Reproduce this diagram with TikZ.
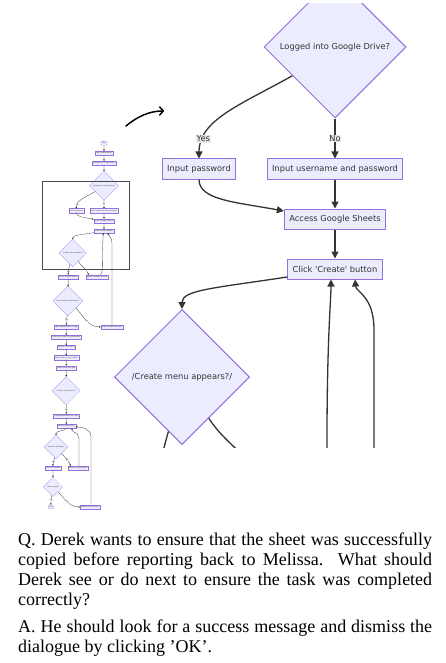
\documentclass[tikz,border=0pt]{standalone}
\usepackage{fontspec}
\setmainfont{Liberation Serif}
\newfontfamily\flowfont{DejaVu Sans}
\usetikzlibrary{shapes.geometric,arrows.meta,calc}
\definecolor{nodefill}{HTML}{ECECFF}
\definecolor{nodeline}{HTML}{9370DB}
\definecolor{edgec}{HTML}{333333}
\definecolor{lblbg}{HTML}{E8E8E8}
\definecolor{framec}{HTML}{4A4A4A}
\newcommand\ffont{\flowfont\fontsize{8.3}{10}\selectfont}
\newcommand\sq{\textquotesingle}
\newcommand\keeptext[1]{#1}
% #1 edge width, #2 border width, #3 arrow tip size, #4 wrapper for texts outside the enlarged view, #5 corner radius
\newcommand\flowdraw[5]{%
\begin{scope}[
  flowbox/.style={rectangle, fill=nodefill, draw=nodeline, line width=#2, minimum height=20pt, inner xsep=5pt, inner ysep=0pt, text=edgec, font=\ffont},
  flowround/.style={flowbox, rounded corners=#5},
  flowdia/.style={diamond, aspect=1, fill=nodefill, draw=nodeline, line width=#2, inner sep=0pt, minimum width=##1, minimum height=##1, text=edgec, font=\ffont},
  flowarr/.style={draw=edgec, line width=#1, -{Triangle[length=#3, width=#3]}},
  flowlbl/.style={fill=lblbg, inner sep=0.8pt, text=edgec, font=\ffont}]
\node[flowround] (st) at (335,-162) {#4{Start}};
\node[flowbox] (n2) at (335,-113) {#4{Open web browser}};
\node[flowbox] (n3) at (335,-64) {#4{Navigate to Google Drive}};
\node[flowdia=142pt] (d1) at (335,47) {Logged into Google Drive?};
\node[flowbox] (ip) at (199,169) {Input password};
\node[flowbox] (iu) at (335,169) {Input username and password};
\node[flowbox] (acc) at (335,219) {Access Google Sheets};
\node[flowbox] (clk) at (335,269) {Click \sq Create\sq{} button};
\node[flowdia=135pt] (cd) at (182,377) {/Create menu appears?/};
\node[flowbox] (sel) at (160,494) {#4{Select Google Sheets}};
\node[flowbox] (rcp) at (301,494) {#4{Restart creation process}};
\node[flowdia=146pt] (d2) at (158,612) {#4{Does Google Sheets open?}};
\node[flowbox] (n12) at (150,739) {#4{Open spreadsheet to copy}};
\node[flowbox] (rr) at (374,739) {#4{Restart creation process}};
\node[flowbox] (n14) at (150,789) {#4{Enter new name for spreadsheet}};
\node[flowbox] (n15) at (150,839) {#4{Click on \sq File\sq{} menu}};
\node[flowbox] (n16) at (150,889) {#4{Select \sq Make a copy\sq{} option}};
\node[flowbox] (n17) at (150,939) {#4{Enter name for copy}};
\node[flowdia=138pt] (d3) at (150,1052) {#4{Choose copy location?}};
\node[flowbox] (n19) at (150,1175) {#4{Choose destination for copy}};
\node[flowbox] (n20) at (150,1225) {#4{Confirm copy action}};
\node[flowdia=116pt] (d4) at (100,1327) {#4{Success message?}};
\node[flowbox] (n22) at (85,1430) {#4{Click \sq OK\sq{} button}};
\node[flowbox] (n23) at (208,1430) {#4{Restart copy process}};
\node[flowdia=94pt] (d5) at (85,1523) {#4{Sheet copied?}};
\node[flowround] (en) at (75,1621) {#4{End}};
\node[flowbox] (n26) at (266,1621) {#4{Restart copy process}};
\draw[flowarr] (st) -- (n2);
\draw[flowarr] (n2) -- (n3);
\draw[flowarr] (n3) -- (d1);
\draw[flowarr] (d1.-146) .. controls (240,105) and (199,120) .. (ip.north) node[flowlbl,pos=0.81]{Yes};
\draw[flowarr] (d1) -- (iu) node[flowlbl,midway]{No};
\draw[flowarr] (ip.south) .. controls (199,200) and (235,202) .. ($(acc.west)+(0,-8)$);
\draw[flowarr] (iu) -- (acc);
\draw[flowarr] (acc) -- (clk);
\draw[flowarr] ($(clk.west)+(0,8)$) .. controls (215,288) and (182,290) .. (cd.north);
\draw[flowarr] (cd.-104) to[out=-106,in=90] node[flowlbl,pos=0.7]{#4{Yes}} (sel.north);
\draw[flowarr] (cd.-57) to[out=-57,in=110] node[flowlbl,pos=0.7]{#4{No}} ($(rcp.north west)+(14,0)$);
\draw[flowarr] ($(rcp.north)+(17,0)$) .. controls (326,474) and (327,460) .. (327,440) .. controls (327,340) and (331,300) .. ($(clk.south)+(-4,0)$);
\draw[flowarr] (rr.north) -- (374,330) .. controls (374,296) and (356,292) .. ($(clk.south)+(20,0)$);
\draw[flowarr] (sel) -- (d2);
\draw[flowarr] (d2) -- node[flowlbl]{#4{Yes}} (n12);
\draw[flowarr] (d2.-40) to[out=-50,in=180] node[flowlbl,pos=0.5]{#4{No}} (rr.west);
\draw[flowarr] (n12) -- (n14);
\draw[flowarr] (n14) -- (n15);
\draw[flowarr] (n15) -- (n16);
\draw[flowarr] (n16) -- (n17);
\draw[flowarr] (n17) -- (d3);
\draw[flowarr] (d3) -- node[flowlbl]{#4{Yes}} (n19);
\draw[flowarr] (n19) -- (n20);
\draw[flowarr] (n20.south) .. controls (150,1250) and (100,1245) .. (d4.north);
\draw[flowarr] (d4) to[out=-98,in=90] node[flowlbl]{#4{Yes}} (n22);
\draw[flowarr] (d4) to[out=-50,in=110] node[flowlbl,pos=0.6]{#4{No}} ($(n23.north west)+(12,0)$);
\draw[flowarr] (n22) -- (d5);
\draw[flowarr] (d5) to[out=-98,in=90] node[flowlbl]{#4{Yes}} (en);
\draw[flowarr] (d5) to[out=-45,in=180] node[flowlbl,pos=0.5]{#4{No}} (n26);
\draw[flowarr] ($(n23.north)+(4,0)$) -- (212,1285) .. controls (212,1255) and (178,1258) .. ($(n20.south)+(28,0)$);
\draw[flowarr] ($(n26.north)+(5,0)$) -- (271,1275) .. controls (271,1240) and (230,1229) .. ($(n20.east)+(0,4)$);
\end{scope}}
\begin{document}
\begin{tikzpicture}[x=1pt,y=-1pt]
\fill[white] (0,0) rectangle (445,663);
\useasboundingbox (0,0) rectangle (445,663);
% thumbnail of the whole flowchart
\begin{scope}[shift={(35.63,176.1)}, scale=0.2041, transform shape]
\flowdraw{0.28pt}{0.15pt}{1.5pt}{\keeptext}{1pt}
\end{scope}
% frame marking the enlarged part
\draw[framec, line width=0.8pt] (42,181) rectangle (129,269);
% enlarged part
\begin{scope}
\clip (110,4) rectangle (445,447);
\flowdraw{1.3pt}{1pt}{7pt}{\phantom}{5pt}
\end{scope}
% pointer arrow
\coordinate (arrS) at (126,126);
\coordinate (arrE) at (164,111);
\draw[black, line width=1.5pt, line cap=round, -{Straight Barb[round,length=3.5pt,width=8pt]}] (arrS) .. controls (138,116) and (150,111) .. (arrE);
% question and answer
\node[anchor=north west, inner sep=0pt, text width=414pt, align=justify, font=\fontsize{18}{20}\selectfont] (qtext) at (18,531)
 {\strut Q. Derek wants to ensure that the sheet was successfully\linebreak copied before reporting back to Melissa.  What should\linebreak Derek see or do next to ensure the task was completed\linebreak correctly?};
\node[anchor=north west, inner sep=0pt, text width=414pt, align=justify, font=\fontsize{18}{20}\selectfont] (atext) at (18,618)
 {\strut A. He should look for a success message and dismiss the\linebreak dialogue by clicking 'OK'.};
\end{tikzpicture}
\end{document}
